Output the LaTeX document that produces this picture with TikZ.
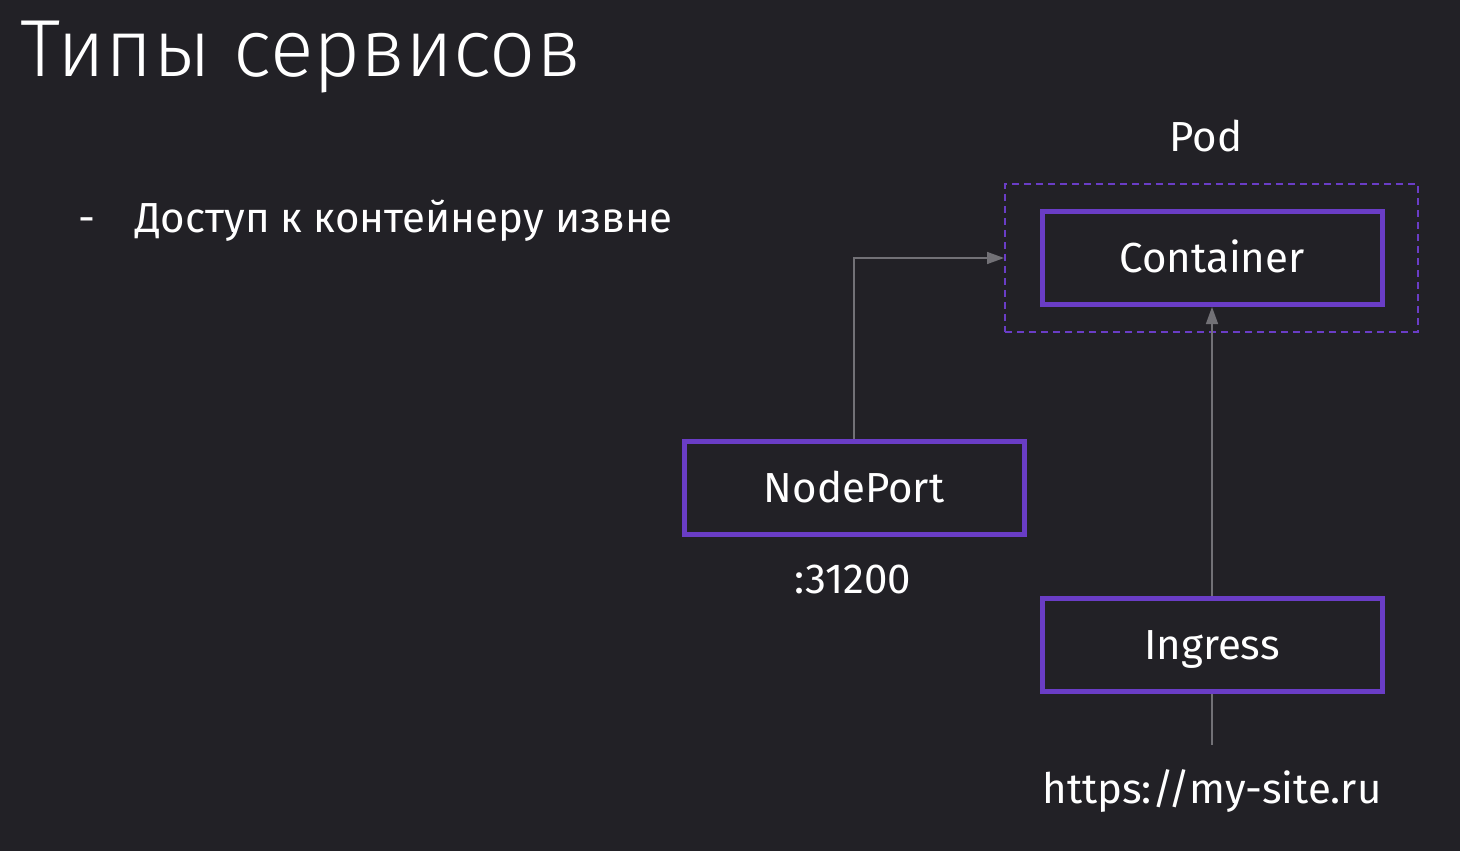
\documentclass[tikz,border=0pt]{standalone}
\usepackage{fontspec}
\setmainfont{Fira Sans}
\newfontfamily\titlefont{Fira Sans Light}
\usepackage{tikz}
\usetikzlibrary{arrows.meta}

\definecolor{bg}{HTML}{222126}
\definecolor{violet}{HTML}{6A3DC6}
\definecolor{wire}{HTML}{727176}

\tikzset{
    box/.style={draw=violet, line width=5pt, minimum width=340pt, minimum height=93pt,
        text=white, font=\fontsize{42}{50}\selectfont, text height=29pt, text depth=0pt},
    podbox/.style={draw=violet, line width=2pt, dash pattern=on 7pt off 5pt,
        minimum width=413pt, minimum height=148pt},
    label/.style={text=white, font=\fontsize{42}{50}\selectfont},
    link/.style={draw=wire, line width=1.5pt, -{Triangle[length=17pt,width=12pt]}},
    wireline/.style={draw=wire, line width=1.5pt}
}

\begin{document}
\begin{tikzpicture}[x=1pt, y=-1pt]
    \fill[bg] (0,0) rectangle (1460,851);
    \useasboundingbox (0,0) rectangle (1460,851);

    % heading and bullet
    \node[anchor=base west, text=white, inner sep=0pt] (title) at (20,77)
        {\titlefont\fontsize{81}{96}\selectfont Типы сервисов};
    \node[anchor=base west, label, inner sep=0pt] (dash) at (78,232) {-};
    \node[anchor=base west, label, inner sep=0pt] (bullet) at (135,232) {Доступ к контейнеру извне};

    % pod with container
    \node[podbox] (pod) at (1211.5,258) {};
    \node[box] (container) at (1212,258) {Container};
    \node[label, anchor=base] (podname) at (1206,151) {Pod};

    % services
    \node[box] (nodeport) at (854,488) {NodePort};
    \node[label, anchor=base] (port) at (853,593) {:31200};
    \node[box] (ingress) at (1212,645) {Ingress};
    \node[label, anchor=base] (url) at (1212,803) {https://my-site.ru};
    \coordinate (urltop) at (1212,745);

    % connectors
    \draw[link] (nodeport.north) |- (pod.west);
    \draw[link] (ingress.north) -- (container.south);
    \draw[wireline] (ingress.south) -- (urltop);
\end{tikzpicture}
\end{document}
